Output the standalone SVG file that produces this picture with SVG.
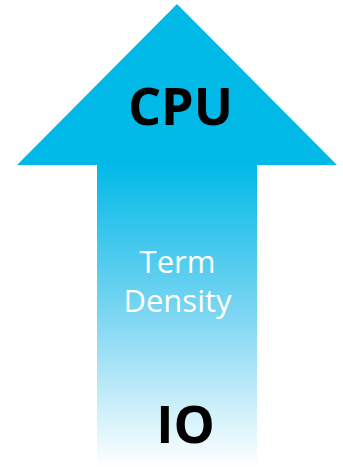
<svg xmlns="http://www.w3.org/2000/svg" width="343" height="467" viewBox="0 0 343 467">
  <defs>
    <linearGradient id="shaftFill" x1="0" y1="0" x2="0" y2="1">
      <stop offset="0" stop-color="#00B9E7"/>
      <stop offset="0.5" stop-color="#7DD6F2"/>
      <stop offset="1" stop-color="#FFFFFF"/>
    </linearGradient>
  </defs>
  <style>
    .label { font-family: "Open Sans", "Noto Sans", sans-serif; text-anchor: middle; }
    .bold { font-weight: bold; fill: #000000; font-size: 52px; }
    .light { fill: #FFFFFF; font-size: 31px; }
  </style>
  <g id="arrow">
    <rect x="97" y="163" width="160" height="304" fill="url(#shaftFill)"/>
    <polygon points="177,4 337,165 17,165" fill="#00B9E7"/>
  </g>
  <g id="cpu"><text class="label bold" x="180.5" y="125">CPU</text></g>
  <g id="term-density">
    <text class="label light" x="177.5" y="273">Term</text>
    <text class="label light" x="177.5" y="312">Density</text>
  </g>
  <g id="io"><text class="label bold" x="185.5" y="443">IO</text></g>
</svg>
